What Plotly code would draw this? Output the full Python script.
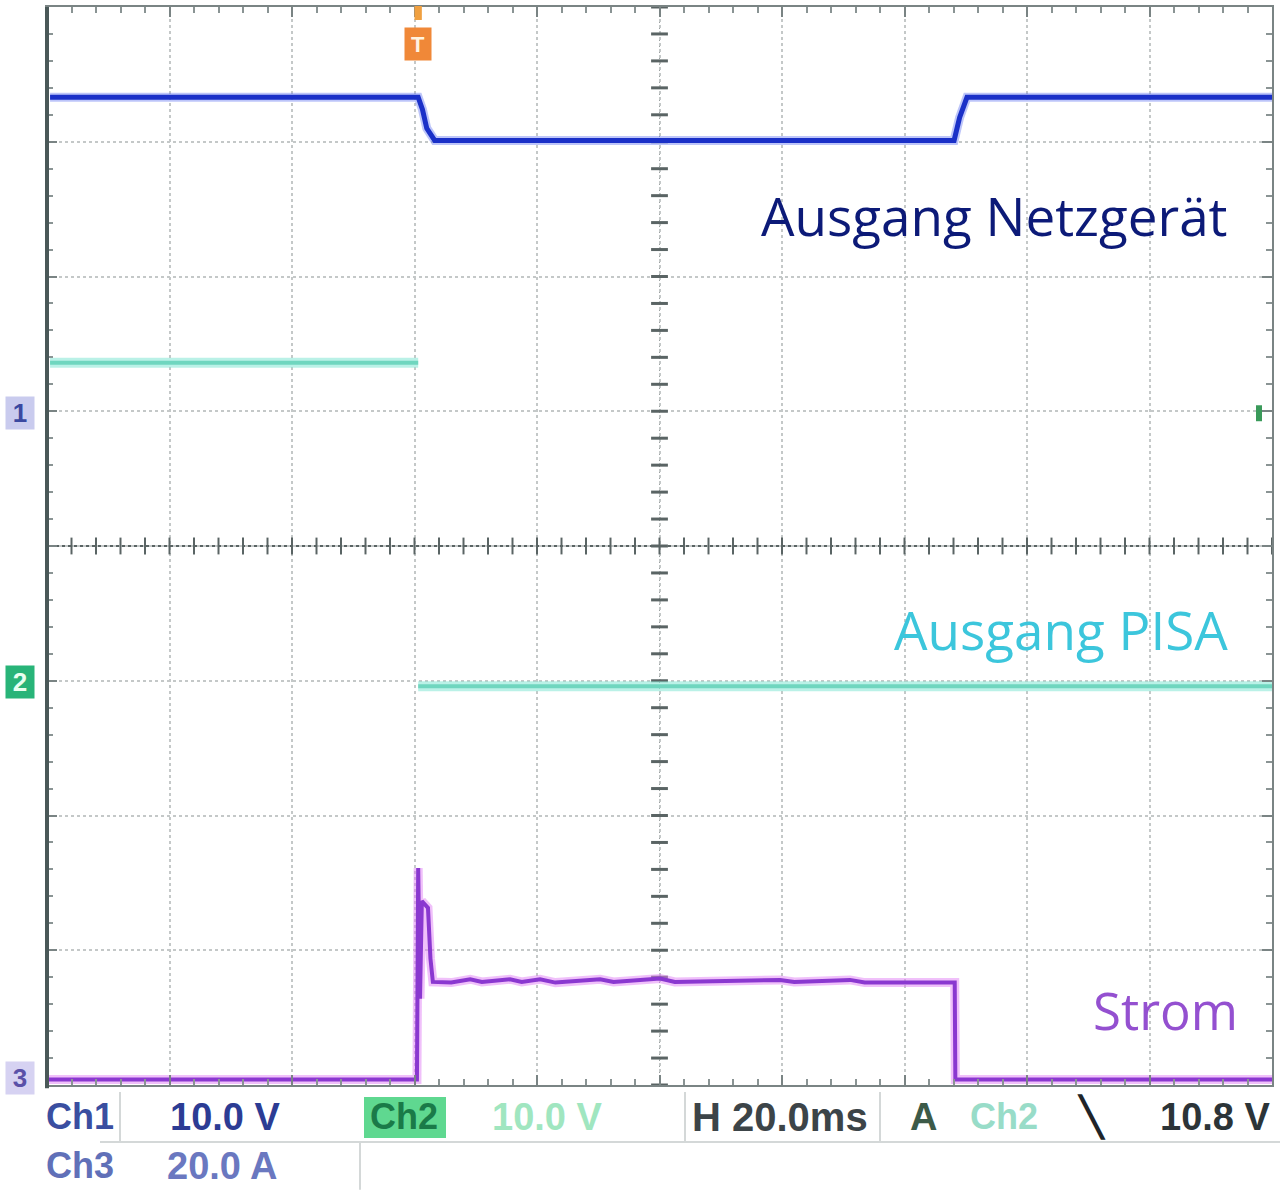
import numpy as np
import plotly.graph_objects as go

TIME_PER_DIV_MS = 20          # H 20.0 ms
CH1_V_PER_DIV = 10.0          # Ch1 10.0 V
CH2_V_PER_DIV = 10.0          # Ch2 10.0 V
CH3_A_PER_DIV = 20.0          # Ch3 20.0 A
CH1_OFFSET_DIV = 1.0          # ground marker "1"
CH2_OFFSET_DIV = -1.0         # ground marker "2"
CH3_OFFSET_DIV = -3.96        # ground marker "3"
TRIGGER_MS = 60.6

# Ch1: Ausgang Netzgerät (V)
ch1_t = [0.5, 60.6, 61.3, 62.0, 63.3, 148.1, 149.0, 150.2, 200.0]
ch1_v = [23.3, 23.3, 22.4, 21.0, 20.1, 20.1, 21.8, 23.3, 23.3]

# Ch2: Ausgang PISA (V)
ch2_t_on = [0.5, 60.6]
ch2_v_on = [23.6, 23.6]
ch2_t_off = [60.6, 200.0]
ch2_v_off = [-0.4, -0.4]

# Ch3: Strom (A)
ch3_t = [0.0, 60.4, 60.6, 60.9, 61.2, 62.2, 62.6, 63.0, 66.0, 69.1, 71.0,
         75.6, 77.5, 80.5, 83.0, 90.3, 92.5, 100.1, 102.5, 119.7, 122.0,
         131.1, 133.5, 148.2, 148.3, 200.0]
ch3_i = [0.0, 0.0, 31.4, 12.0, 26.5, 25.5, 18.0, 14.5, 14.4, 14.9, 14.5,
         14.9, 14.5, 14.9, 14.4, 14.9, 14.5, 15.0, 14.5, 14.8, 14.5,
         14.8, 14.4, 14.4, 0.0, 0.0]

labels = {"ch1": "Ausgang Netzgerät", "ch2": "Ausgang PISA", "ch3": "Strom"}

# ---------------- helpers ----------------
def ch1_div(v): return [CH1_OFFSET_DIV + x / CH1_V_PER_DIV for x in v]
def ch2_div(v): return [CH2_OFFSET_DIV + x / CH2_V_PER_DIV for x in v]
def ch3_div(v): return [CH3_OFFSET_DIV + x / CH3_A_PER_DIV for x in v]

L, R, T, B = 47, 8, 5, 105
W, H = 1280, 1190
PW, PH = W - L - R, H - T - B
def px(p): return (p - L) / PW
def py(p): return (H - B - p) / PH

fig = go.Figure()

# centre-axis tick marks
fig.add_trace(go.Scatter(x=np.arange(0, 200.01, TIME_PER_DIV_MS / 5), y=[0] * 51,
                         mode="markers", hoverinfo="skip",
                         marker=dict(symbol="line-ns", size=12,
                                     line=dict(color="#5a6464", width=2))))
fig.add_trace(go.Scatter(x=[100] * 41, y=np.arange(-4, 4.01, 0.2),
                         mode="markers", hoverinfo="skip",
                         marker=dict(symbol="line-ew", size=12,
                                     line=dict(color="#5a6464", width=3))))

def trace(t, y, glow, core, gw=10, cw=4):
    fig.add_trace(go.Scatter(x=t, y=y, mode="lines", hoverinfo="skip",
                             line=dict(color=glow, width=gw)))
    fig.add_trace(go.Scatter(x=t, y=y, mode="lines", hoverinfo="skip",
                             line=dict(color=core, width=cw)))

trace(ch2_t_on, ch2_div(ch2_v_on), "rgba(140,232,215,0.6)", "#6fd6bf")
trace(ch2_t_off, ch2_div(ch2_v_off), "rgba(140,232,215,0.6)", "#6fd6bf")
trace(ch1_t, ch1_div(ch1_v), "rgba(90,110,240,0.40)", "#1a30c8", 9, 5)
trace(ch3_t, ch3_div(ch3_i), "rgba(225,130,245,0.50)", "#8a38d0", 9, 4)

# ---------------- text labels ----------------
fig.add_annotation(x=193.2, y=2.45, text=labels["ch1"], showarrow=False,
                   xanchor="right", yanchor="middle",
                   font=dict(family="Open Sans", size=53, color="#0c1a78"))
fig.add_annotation(x=193.2, y=-0.62, text=labels["ch2"], showarrow=False,
                   xanchor="right", yanchor="middle",
                   font=dict(family="Open Sans", size=53, color="#3cc6dc"))
fig.add_annotation(x=194.8, y=-3.44, text=labels["ch3"], showarrow=False,
                   xanchor="right", yanchor="middle",
                   font=dict(family="Open Sans", size=51, color="#9450d0"))

# channel ground markers
for txt, ycent, bg, fc in [("1", 412, "#c9cbee", "#3a48a0"),
                           ("2", 681, "#28b478", "#e8fff0"),
                           ("3", 1078, "#d6d2f2", "#5a50a8")]:
    fig.add_annotation(x=px(20), y=py(ycent), xref="paper", yref="paper",
                       xanchor="center", yanchor="middle",
                       text="<b>%s</b>" % txt, showarrow=False, bgcolor=bg,
                       font=dict(family="Liberation Sans", size=26, color=fc),
                       width=26, height=30)

# trigger position marker
fig.add_annotation(x=TRIGGER_MS, y=py(42), yref="paper", text="<b>T</b>",
                   xanchor="center", yanchor="middle",
                   showarrow=False, bgcolor="#f08838",
                   font=dict(family="Liberation Sans", size=22, color="#fff3e0"),
                   width=24, height=30)
fig.add_shape(type="rect", xref="x", yref="paper", x0=TRIGGER_MS - 0.6,
              x1=TRIGGER_MS + 0.6, y0=py(18), y1=py(4),
              fillcolor="#f0a040", line_width=0)
# trigger level marker at right edge
fig.add_shape(type="rect", xref="paper", yref="paper", x0=px(1256), x1=px(1262),
              y0=py(420), y1=py(404), fillcolor="#3a9a5a", line_width=0)

# left frame edge
fig.add_shape(type="line", xref="paper", yref="paper", x0=0, x1=0,
              y0=-0.003, y1=1, line=dict(color="#4a5858", width=4))
# centre axes lines
fig.add_shape(type="line", x0=0, x1=200, y0=0, y1=0,
              line=dict(color="#5a6464", width=2), layer="below")
fig.add_shape(type="line", x0=100, x1=100, y0=-4, y1=4,
              line=dict(color="#9aa0a0", width=1, dash="dot"), layer="below")

# ---------------- status bar ----------------
sb_font = "Liberation Sans"
def sb(text, xl, ycent, color, size=38, bg=None):
    fig.add_annotation(x=px(xl), y=py(ycent), xref="paper", yref="paper",
                       text="<b>%s</b>" % text, showarrow=False,
                       xanchor="left", yanchor="middle", bgcolor=bg,
                       font=dict(family=sb_font, size=size, color=color))

for (x0, y0, x1, y1) in [(100, 1142, 880, 1142), (360, 1142, 360, 1190),
                         (120, 1092, 120, 1142), (880, 1092, 880, 1142),
                         (880, 1142, 1280, 1142), (685, 1092, 685, 1142)]:
    fig.add_shape(type="line", xref="paper", yref="paper", x0=px(x0), x1=px(x1),
                  y0=py(y0), y1=py(y1), line=dict(color="#d4d8d8", width=2))

sb("Ch1", 44, 1117, "#3a4ea0", 36)
sb("10.0 V", 168, 1117, "#2c3c94")
sb("Ch3", 44, 1166, "#6070b8", 36)
sb("20.0 A", 165, 1166, "#6a78c0")
fig.add_shape(type="rect", xref="paper", yref="paper", x0=px(364), x1=px(446),
              y0=py(1138), y1=py(1097), fillcolor="#5fd890", line_width=0)
sb("Ch2", 368, 1117, "#1a7a48", 36)
sb("10.0 V", 490, 1117, "#a0e6c0")
sb("H 20.0ms", 690, 1117, "#3c4448", 40)
sb("A", 908, 1117, "#3c5a48")
sb("Ch2", 968, 1117, "#98dcc8", 36)
sb("\u2572", 1075, 1117, "#202428")
sb("10.8 V", 1158, 1117, "#2c3438")

# ---------------- layout ----------------
axis_common = dict(showgrid=True, gridcolor="#c4c8c8", griddash="dot",
                   gridwidth=2, zeroline=False, showticklabels=False,
                   showline=True, linecolor="#7a8484", linewidth=2,
                   mirror="allticks", ticks="inside", ticklen=10,
                   tickcolor="#7a8484", tickwidth=2, fixedrange=True)
fig.update_xaxes(range=[0, 200], dtick=TIME_PER_DIV_MS, **axis_common,
                 minor=dict(dtick=TIME_PER_DIV_MS / 5, ticks="inside",
                            ticklen=6, tickcolor="#8a9494", showgrid=False))
fig.update_yaxes(range=[-4, 4], dtick=1, **axis_common,
                 minor=dict(dtick=0.2, ticks="inside", ticklen=6,
                            tickcolor="#8a9494", showgrid=False))
fig.update_layout(width=W, height=H, autosize=False,
                  margin=dict(l=L, r=R, t=T, b=B),
                  paper_bgcolor="white", plot_bgcolor="white",
                  showlegend=False, hovermode=False)

fig.write_html("out.html", config={"displayModeBar": False},
               post_script="document.body.style.margin='0';")
